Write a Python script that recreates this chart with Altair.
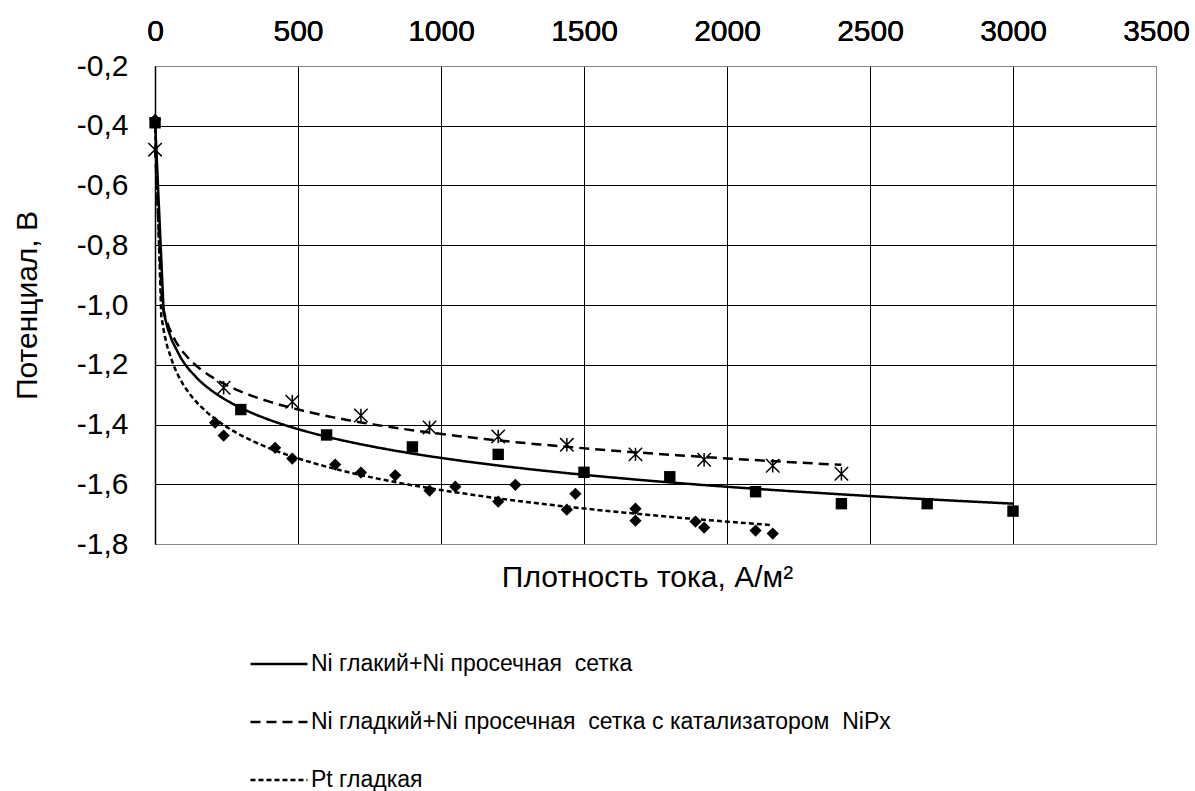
import altair as alt
import pandas as pd

FONT = "Liberation Sans"

SERIES = [
    "Ni глакий+Ni просечная\u00a0 сетка",
    "Ni гладкий+Ni просечная\u00a0 сетка с катализатором\u00a0 NiPx",
    "Pt гладкая",
]

# Ni smooth + Ni expanded mesh (squares)
ni_x = [0.3, 300, 600, 900, 1200, 1500, 1800, 2100, 2400, 2700, 3000]
ni_y = [-0.39, -1.35, -1.435, -1.475, -1.50, -1.56, -1.575, -1.625, -1.665, -1.665, -1.69]

# Ni smooth + Ni expanded mesh with NiPx catalyst (asterisks)
cat_x = [0.3, 240, 480, 720, 960, 1200, 1440, 1680, 1920, 2160, 2400]
cat_y = [-0.48, -1.277, -1.324, -1.37, -1.41, -1.44, -1.468, -1.50, -1.518, -1.538, -1.565]

# Smooth Pt (diamonds), two runs
pt_x = [0.3, 210, 240, 420, 480, 630, 720, 840, 960, 1050, 1200, 1260,
        1440, 1470, 1680, 1680, 1890, 1920, 2100, 2160]
pt_y = [-0.38, -1.394, -1.437, -1.478, -1.514, -1.534, -1.561, -1.57, -1.621, -1.608,
        -1.658, -1.602, -1.685, -1.632, -1.682, -1.722, -1.725, -1.745, -1.755, -1.765]

x_ticks = [0, 500, 1000, 1500, 2000, 2500, 3000, 3500]
y_ticks = [-1.8, -1.6, -1.4, -1.2, -1.0, -0.8, -0.6, -0.4, -0.2]

rows = []
for name, xs, ys in [(SERIES[0], ni_x, ni_y), (SERIES[1], cat_x, cat_y), (SERIES[2], pt_x, pt_y)]:
    for xv, yv in zip(xs, ys):
        rows.append({"series": name, "x": xv, "y": yv})
df = pd.DataFrame(rows)

x_scale = alt.Scale(domain=[0, 3500], nice=False, zero=False)
y_scale = alt.Scale(domain=[-1.8, -0.2], nice=False, zero=False)

# tick labels on top, grid through the plot
X = alt.X(
    "x:Q",
    scale=x_scale,
    axis=alt.Axis(
        orient="top", values=x_ticks, format="d", title=None,
        ticks=False, domain=False, labelPadding=20, labelFlush=False,
        labelFont=FONT, labelFontSize=30, labelFontWeight="normal", labelColor="black",
        grid=True, gridWidth=1,
        gridColor={"condition": {"test": "datum.value >= 3500", "value": "#888888"}, "value": "black"},
    ),
)
# bottom axis carrying only the title
X_bottom = alt.X(
    "x:Q",
    scale=x_scale,
    axis=alt.Axis(
        orient="bottom", values=x_ticks, labels=False, ticks=False, domain=False, grid=False,
        title="Плотность тока, А/м²", titleFont=FONT, titleFontSize=30,
        titleFontWeight="normal", titleColor="black", titlePadding=18,
        titleX=492, titleAlign="center",
    ),
)
Y = alt.Y(
    "y:Q",
    scale=y_scale,
    axis=alt.Axis(
        values=y_ticks, ticks=False, domain=True, domainColor="black", domainWidth=1.5,
        labelPadding=27, labelFlush=False, labelFont=FONT, labelFontSize=30,
        labelFontWeight="normal", labelColor="black",
        labelExpr="replace(replace(format(datum.value, '.1f'), '.', ','), '\u2212', '-')",
        grid=True, gridWidth=1,
        gridColor={"condition": {"test": "datum.value <= -1.79 || datum.value >= -0.21", "value": "#888888"}, "value": "black"},
        title="Потенциал, В", titleFont=FONT, titleFontSize=30, titleFontWeight="normal",
        titleColor="black", titleAngle=270, titleX=-128, titleY=239,
        titleAlign="center", titleBaseline="middle",
    ),
)

base = alt.Chart(df)

trend = base.transform_regression(
    "x", "y", method="log", groupby=["series"]
).mark_line(color="black", strokeWidth=2.5).encode(
    x=X,
    y=Y,
    strokeDash=alt.StrokeDash(
        "series:N",
        scale=alt.Scale(domain=SERIES, range=[[1, 0], [10, 6], [5, 3]]),
        legend=alt.Legend(
            title=None, orient="none", legendX=94, legendY=568, direction="vertical",
            symbolType="stroke", symbolSize=3249, symbolStrokeWidth=2.5,
            symbolStrokeColor="black", labelFont=FONT, labelFontSize=23,
            labelColor="black", labelLimit=1000, labelOffset=2, rowPadding=16,
        ),
    ),
)

diamonds = base.transform_filter(alt.datum.series == SERIES[2]).mark_point(
    shape="diamond", filled=True, color="black", size=150, opacity=1
).encode(x=X, y=Y)

squares = base.transform_filter(alt.datum.series == SERIES[0]).mark_point(
    shape="square", filled=True, color="black", size=130, opacity=1
).encode(x=X_bottom, y=Y)

stars = base.transform_filter(alt.datum.series == SERIES[1]).mark_point(
    shape="M-1,-1L1,1M-1,1L1,-1M0,-1L0,1", filled=False, color="black",
    strokeWidth=1.5, size=180, opacity=1
).encode(x=X, y=Y)

chart = alt.layer(trend, diamonds, squares, stars).resolve_axis(
    x="independent"
).properties(
    width=1001,
    height=478,
    autosize="none",
    padding={"left": 155, "top": 66, "right": 39, "bottom": 247},
).configure_view(stroke="#888888", strokeWidth=1.5).configure(background="white")

chart.save("out.html", embed_options={"renderer": "svg", "actions": False})
